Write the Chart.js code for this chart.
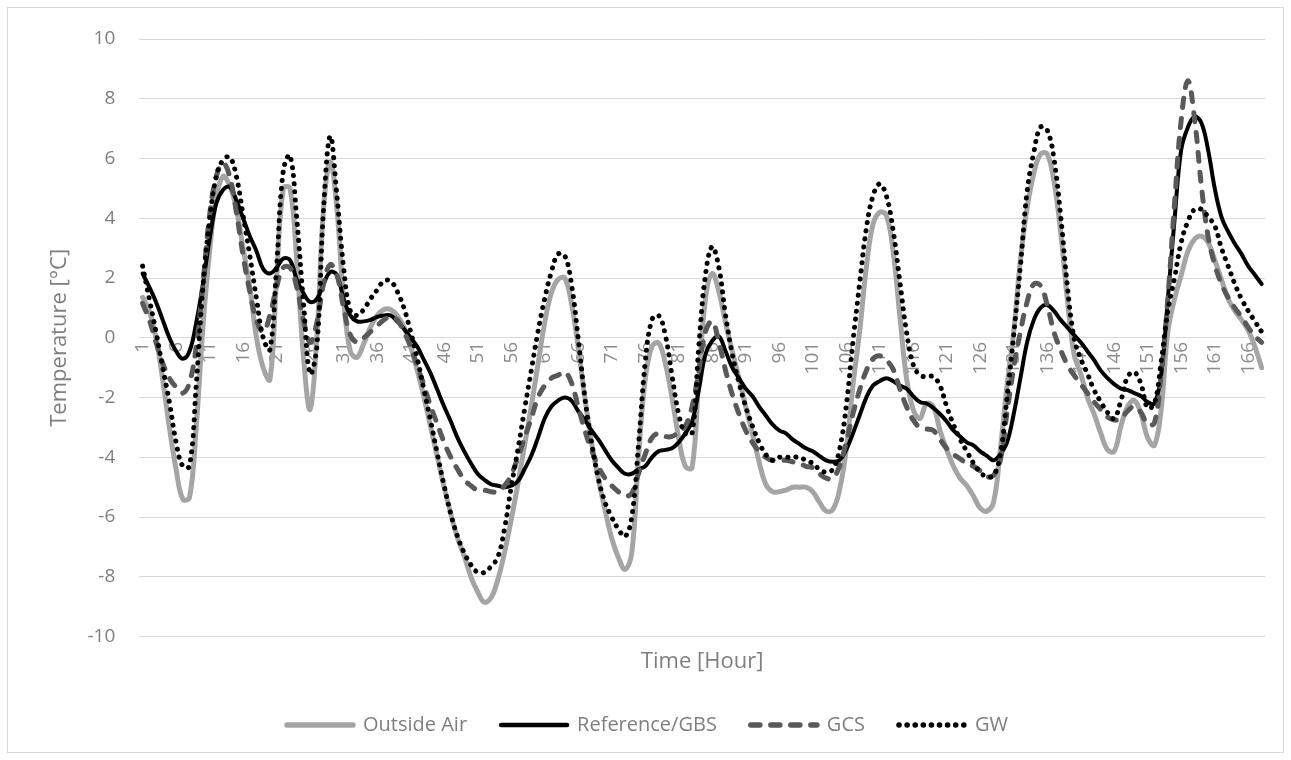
<!DOCTYPE html>
<html>
<head>
<meta charset="utf-8">
<title>Temperature</title>
<script src="https://cdn.jsdelivr.net/npm/chart.js@4.4.1/dist/chart.umd.min.js"></script>
<style>
  body { margin: 0; background: #fff; }
  canvas { display: block; }
</style>
</head>
<body>
<canvas id="myChart" width="1291" height="760"></canvas>
<script>
// hours 1..168
let hours = [];
for (let h = 1; h <= 168; h++) hours.push(String(h));

let outsideAir = [1.35, 0.9, 0.0, -1.4, -3.0, -4.4, -5.4, -5.35, -3.0, 0.35,
    2.9, 4.7, 5.4, 5.1, 4.3, 3.0, 1.7, 0.0, -1.0, -1.4,
    2.0, 5.0, 5.0, 2.6, -0.6, -2.4, 0.0, 4.3, 5.9, 4.3,
    1.3, -0.45, -0.65, -0.2, 0.35, 0.75, 0.95, 0.95, 0.75, 0.35,
    -0.3, -1.1, -2.0, -3.0, -4.0, -5.0, -5.9, -6.7, -7.3, -8.0,
    -8.5, -8.85, -8.7, -8.1, -7.2, -6.1, -4.9, -3.6, -2.3, -0.9,
    0.5, 1.5, 1.95, 2.0, 1.15, -0.3, -2.0, -3.5, -4.7, -5.75,
    -6.7, -7.35, -7.75, -7.2, -4.0, -1.4, -0.3, -0.17, -0.85, -2.0,
    -3.35, -4.3, -4.35, -1.4, 1.3, 2.15, 1.55, 0.5, -0.45, -1.35,
    -2.3, -3.2, -4.15, -4.9, -5.15, -5.15, -5.1, -5.0, -5.0, -5.0,
    -5.15, -5.5, -5.8, -5.75, -5.1, -3.75, -1.6, 0.2, 2.35, 3.8,
    4.2, 4.1, 2.9, 0.75, -1.35, -2.4, -2.7, -2.2, -2.3, -3.1,
    -3.75, -4.3, -4.7, -4.95, -5.3, -5.7, -5.8, -5.5, -3.75, -1.6,
    0.2, 2.6, 4.35, 5.5, 6.15, 6.15, 5.25, 3.55, 1.3, -0.55,
    -1.2, -2.0, -2.55, -3.2, -3.75, -3.8, -2.95, -2.3, -2.1, -2.55,
    -3.35, -3.6, -2.4, 0.2, 1.3, 2.1, 2.9, 3.3, 3.4, 3.2,
    2.6, 1.95, 1.3, 0.9, 0.6, 0.25, -0.3, -1.0];

let referenceGbs = [2.15, 1.7, 1.2, 0.6, 0.0, -0.45, -0.7, -0.45, 0.5, 1.8,
    3.3, 4.5, 4.95, 5.05, 4.6, 4.0, 3.4, 2.9, 2.3, 2.15,
    2.35, 2.65, 2.6, 1.95, 1.5, 1.2, 1.3, 1.8, 2.2, 2.1,
    1.3, 0.75, 0.55, 0.55, 0.6, 0.7, 0.75, 0.75, 0.55, 0.3,
    0.0, -0.3, -0.75, -1.2, -1.75, -2.3, -2.8, -3.35, -3.8, -4.2,
    -4.55, -4.75, -4.9, -4.95, -5.0, -4.95, -4.8, -4.4, -3.95, -3.35,
    -2.7, -2.3, -2.1, -2.0, -2.1, -2.45, -2.75, -3.1, -3.4, -3.75,
    -4.1, -4.35, -4.55, -4.55, -4.4, -4.3, -4.0, -3.8, -3.75, -3.7,
    -3.5, -3.2, -2.8, -1.75, -0.55, -0.1, 0.05, -0.45, -1.0, -1.35,
    -1.7, -1.95, -2.3, -2.6, -2.9, -3.1, -3.2, -3.4, -3.55, -3.7,
    -3.8, -3.95, -4.1, -4.15, -4.1, -3.75, -3.2, -2.6, -2.0, -1.6,
    -1.45, -1.35, -1.45, -1.6, -1.7, -1.95, -2.15, -2.2, -2.35, -2.55,
    -2.8, -3.1, -3.3, -3.5, -3.6, -3.8, -3.95, -4.1, -3.9, -3.5,
    -2.55, -1.35, -0.15, 0.6, 1.0, 1.1, 0.9, 0.6, 0.35, 0.1,
    -0.15, -0.45, -0.75, -1.1, -1.35, -1.55, -1.7, -1.75, -1.85, -1.95,
    -2.15, -2.2, -1.25, 1.3, 3.95, 6.3, 7.05, 7.4, 7.2, 6.3,
    5.0, 4.05, 3.55, 3.15, 2.8, 2.4, 2.1, 1.8];

let gcs = [1.15, 0.6, -0.15, -0.85, -1.35, -1.65, -1.85, -1.5, -0.3, 1.8,
    4.1, 5.4, 5.85, 5.4, 4.2, 2.75, 1.55, 0.6, 0.2, 0.75,
    1.7, 2.35, 2.35, 1.7, 0.6, -0.15, 0.5, 1.8, 2.45, 2.1,
    1.0, 0.1, -0.15, 0.0, 0.2, 0.4, 0.6, 0.7, 0.6, 0.2,
    -0.3, -0.95, -1.6, -2.3, -2.9, -3.5, -4.0, -4.4, -4.75, -4.95,
    -5.1, -5.1, -5.15, -5.15, -4.95, -4.6, -4.0, -3.35, -2.7, -2.0,
    -1.6, -1.35, -1.25, -1.15, -1.5, -2.3, -3.1, -3.75, -4.3, -4.7,
    -4.95, -5.15, -5.3, -5.2, -4.55, -3.9, -3.35, -3.2, -3.3, -3.3,
    -3.15, -2.95, -2.3, -1.1, 0.2, 0.55, -0.15, -1.1, -1.9, -2.55,
    -3.1, -3.5, -3.8, -4.0, -4.1, -4.1, -4.1, -4.15, -4.2, -4.3,
    -4.35, -4.55, -4.7, -4.7, -4.3, -3.5, -2.55, -1.75, -1.1, -0.7,
    -0.6, -0.75, -1.05, -1.7, -2.3, -2.75, -3.0, -3.05, -3.1, -3.4,
    -3.7, -3.9, -4.05, -4.2, -4.3, -4.45, -4.65, -4.6, -4.1, -2.5,
    -1.0, 0.2, 1.2, 1.8, 1.75, 1.1, 0.2, -0.4, -0.9, -1.25,
    -1.55, -1.85, -2.15, -2.4, -2.65, -2.75, -2.7, -2.45, -2.3, -2.5,
    -2.9, -2.85, -1.2, 1.3, 4.5, 7.3, 8.6, 7.3, 5.1, 3.4,
    2.45, 1.8, 1.35, 1.0, 0.7, 0.35, 0.05, -0.15];

let gw = [2.4, 1.3, 0.2, -1.0, -2.15, -3.5, -4.3, -4.3, -1.6, 1.7,
    3.95, 5.4, 5.95, 6.05, 5.4, 4.1, 2.75, 1.3, 0.0, -0.4,
    2.4, 5.6, 6.1, 4.0, 1.2, -1.2, -0.3, 4.3, 6.75, 4.75,
    2.35, 0.9, 0.75, 0.95, 1.3, 1.6, 1.9, 1.9, 1.55, 1.0,
    0.2, -0.7, -1.75, -2.8, -3.9, -4.95, -5.9, -6.65, -7.2, -7.6,
    -7.85, -7.85, -7.65, -7.35, -6.4, -5.0, -3.75, -2.4, -1.1, 0.2,
    1.3, 2.2, 2.8, 2.75, 1.8, 0.0, -2.0, -3.5, -4.7, -5.5,
    -6.0, -6.4, -6.65, -6.0, -3.6, -0.85, 0.6, 0.75, 0.1, -1.25,
    -2.55, -3.2, -3.2, -0.3, 2.1, 3.05, 2.35, 0.75, -0.55, -1.5,
    -2.3, -2.95, -3.5, -3.9, -4.1, -4.0, -4.0, -4.0, -4.0, -4.1,
    -4.2, -4.4, -4.5, -4.4, -3.75, -2.3, -0.15, 1.8, 3.65, 4.75,
    5.15, 4.75, 3.6, 1.9, 0.2, -0.9, -1.25, -1.3, -1.3, -1.6,
    -2.3, -2.9, -3.4, -3.8, -4.2, -4.5, -4.65, -4.6, -3.9, -2.0,
    0.1, 2.4, 4.9, 6.2, 7.05, 6.95, 6.0, 4.1, 1.75, 0.0,
    -0.7, -1.2, -1.75, -2.15, -2.5, -2.7, -2.1, -1.3, -1.15, -1.55,
    -2.35, -2.2, -0.8, 0.9, 2.0, 3.2, 3.9, 4.3, 4.3, 4.05,
    3.75, 3.0, 2.4, 1.8, 1.3, 0.9, 0.55, 0.2];

let fontName = '"Open Sans"';
let textGrey = '#7f7f7f';

// light frame round the whole chart
const chartFrame = {
    id: 'chartFrame',
    beforeDraw(chart) {
        let ctx = chart.ctx;
        ctx.save();
        ctx.fillStyle = '#ffffff';
        ctx.fillRect(0, 0, chart.width, chart.height);
        ctx.strokeStyle = '#d9d9d9';
        ctx.lineWidth = 1;
        ctx.strokeRect(7.5, 7.5, 1276, 745);
        ctx.restore();
    }
};

function lineSet(label, data, color, width, dash, order) {
    return {
        label: label,
        data: data,
        borderColor: color,
        backgroundColor: color,
        borderWidth: width,
        borderDash: dash,
        borderCapStyle: 'round',
        pointRadius: 0,
        tension: 0.4,
        fill: false,
        order: order
    };
}

// legend entries built by hand so the dash pattern shows in the key
function legendItems(chart) {
    return chart.data.datasets.map(function(ds, i) {
        return {
            text: ds.label,
            fillStyle: ds.borderColor,
            strokeStyle: ds.borderColor,
            lineWidth: ds.borderWidth + 0.5,
            lineDash: ds.borderDash,
            lineCap: 'round',
            pointStyle: 'line',
            fontColor: textGrey,
            hidden: false,
            datasetIndex: i
        };
    });
}

window.onload = function() {
    const ctx = document.getElementById('myChart').getContext('2d');
    new Chart(ctx, {
        type: 'line',
        data: {
            labels: hours,
            datasets: [
                lineSet('Outside Air', outsideAir, '#a5a5a5', 5, [], 3),
                lineSet('Reference/GBS', referenceGbs, '#000000', 4, [], 2),
                lineSet('GCS', gcs, '#595959', 5, [9, 11], 1),
                lineSet('GW', gw, '#000000', 5, [0.1, 8], 0)
            ]
        },
        options: {
            responsive: false,
            animation: false,
            layout: {
                padding: { left: 30, right: 26, top: 39, bottom: 15 }
            },
            plugins: {
                tooltip: { enabled: false },
                legend: {
                    position: 'bottom',
                    labels: {
                        usePointStyle: true,
                        pointStyle: 'line',
                        pointStyleWidth: 66,
                        padding: 34,
                        color: textGrey,
                        font: { family: fontName, size: 20 },
                        generateLabels: legendItems
                    }
                }
            },
            scales: {
                x: {
                    type: 'category',
                    offset: true,
                    position: { y: 0 },
                    grid: { display: false, drawTicks: false },
                    border: { display: false },
                    ticks: {
                        autoSkip: false,
                        minRotation: 90,
                        maxRotation: 90,
                        padding: 4,
                        color: '#8c8c8c',
                        font: { family: fontName, size: 19 },
                        callback: function(val, index) {
                            return index % 5 === 0 ? this.getLabelForValue(val) : null;
                        }
                    }
                },
                xTitle: {
                    type: 'category',
                    position: 'bottom',
                    grid: { display: false, drawTicks: false },
                    border: { display: false },
                    ticks: { display: false },
                    title: {
                        display: true,
                        text: 'Time [Hour]',
                        color: textGrey,
                        font: { family: fontName, size: 22 },
                        padding: { top: 12, bottom: 6 }
                    }
                },
                y: {
                    min: -10,
                    max: 10,
                    grid: { color: '#d9d9d9', lineWidth: 1, drawTicks: false },
                    border: { display: false },
                    ticks: {
                        stepSize: 2,
                        padding: 24,
                        color: textGrey,
                        font: { family: fontName, size: 19 }
                    },
                    title: {
                        display: true,
                        text: 'Temperature [°C]',
                        color: textGrey,
                        font: { family: fontName, size: 22 },
                        padding: { top: 17, bottom: -10 }
                    }
                }
            }
        },
        plugins: [chartFrame]
    });
};
</script>
</body>
</html>
